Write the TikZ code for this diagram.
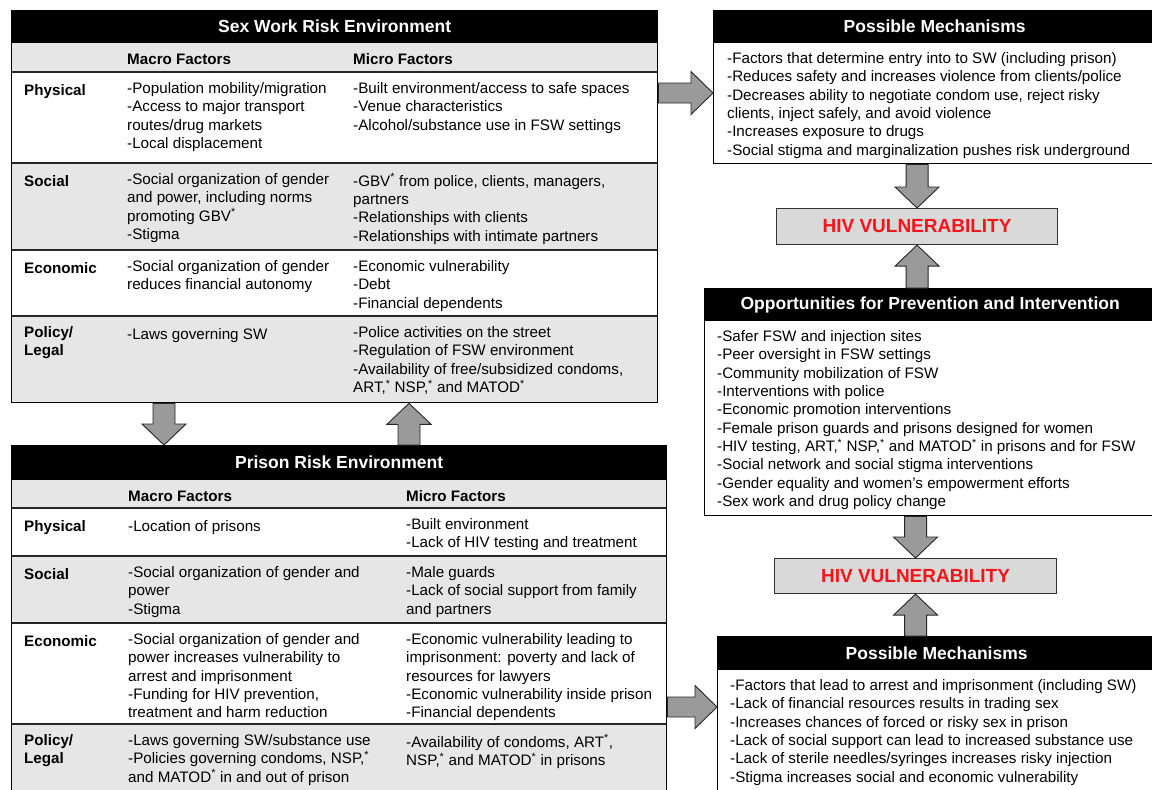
\documentclass[tikz,border=0pt]{standalone}
\usepackage{fontspec}
\setmainfont{Liberation Sans}
\usetikzlibrary{calc}
\definecolor{rowgray}{HTML}{E6E6E6}
\definecolor{hivgray}{HTML}{D9D9D9}
\definecolor{arrowgray}{HTML}{9A9A9A}
\definecolor{hivred}{HTML}{F5141A}
\newcommand\bodyfont{\fontsize{15.2}{18.35}\selectfont}
\newcommand\ttlfont{\fontsize{17.5}{20}\selectfont\bfseries}
\newcommand\sst{\textsuperscript{*}}
\newcommand\BlockDown[2]{\draw[blockarrow] ($(#1)+(-11,0)$) -- ($(#2)+(-11,-21)$) -- ($(#2)+(-22,-21)$) -- (#2) -- ($(#2)+(22,-21)$) -- ($(#2)+(11,-21)$) -- ($(#1)+(11,0)$) -- cycle;}
\newcommand\BlockUp[2]{\draw[blockarrow] ($(#1)+(-11,0)$) -- ($(#2)+(-11,21)$) -- ($(#2)+(-22,21)$) -- (#2) -- ($(#2)+(22,21)$) -- ($(#2)+(11,21)$) -- ($(#1)+(11,0)$) -- cycle;}
\newcommand\BlockRight[2]{\draw[blockarrow] ($(#1)+(0,-10)$) -- ($(#2)+(-22,-10)$) -- ($(#2)+(-22,-21.5)$) -- (#2) -- ($(#2)+(-22,21.5)$) -- ($(#2)+(-22,10)$) -- ($(#1)+(0,10)$) -- cycle;}
\begin{document}
\begin{tikzpicture}[x=1pt,y=-1pt,
  cell/.style={anchor=north west, inner sep=0pt, align=left, font=\bodyfont, execute at begin node=\strut, yshift=-1.8pt},
  lbl/.style={cell, font=\bodyfont\bfseries},
  boxn/.style={draw=black, line width=1.3pt, inner sep=0pt, anchor=north west},
  titlebar/.style={fill=black, draw=black, line width=1.3pt, text=white, font=\ttlfont, inner sep=0pt, anchor=north west},
  rowline/.style={draw=black!85, line width=1.1pt},
  hivbox/.style={fill=hivgray, draw=black!80, line width=1.1pt, text=hivred, font=\fontsize{19}{22}\selectfont\bfseries, inner sep=0pt, anchor=north west},
  blockarrow/.style={fill=arrowgray, draw=black!85, line width=0.9pt, line join=miter}
]
\useasboundingbox (0,0) rectangle (1152,790);
\fill[white] (0,0) rectangle (1152,790);

% ---------- Sex work risk environment ----------
\fill[rowgray] (11,42) rectangle (657,72);
\fill[rowgray] (11,163) rectangle (657,250);
\fill[rowgray] (11,316) rectangle (657,402);
\draw[rowline] (11,72) -- (657,72);
\draw[rowline] (11,163) -- (657,163);
\draw[rowline] (11,250) -- (657,250);
\draw[rowline] (11,316) -- (657,316);
\node[boxn, minimum width=646pt, minimum height=392pt] (sw) at (11,10) {};
\node[titlebar, minimum width=646pt, minimum height=32pt] (swtitle) at (11,10) {Sex Work Risk Environment};

\node[lbl] (swhma) at (127,49.5) {Macro Factors};
\node[lbl] (swhmi) at (353,49.5) {Micro Factors};

\node[lbl] (swpl) at (24,80.5) {Physical};
\node[cell] (swpma) at (127,80.5) {-Population mobility/migration\\-Access to major transport\\routes/drug markets\\-Local displacement};
\node[cell] (swpmi) at (353,80.5) {-Built environment/access to safe spaces\\-Venue characteristics\\-Alcohol/substance use in FSW settings};

\node[lbl] (swsl) at (24,171.5) {Social};
\node[cell] (swsma) at (127,171.5) {-Social organization of gender\\and power, including norms\\promoting GBV\sst\\-Stigma};
\node[cell] (swsmi) at (353,171.5) {-GBV\sst{} from police, clients, managers,\\partners\\-Relationships with clients\\-Relationships with intimate partners};

\node[lbl] (swel) at (24,258.5) {Economic};
\node[cell] (swema) at (127,258.5) {-Social organization of gender\\reduces financial autonomy};
\node[cell] (swemi) at (353,258.5) {-Economic vulnerability\\-Debt\\-Financial dependents};

\node[lbl] (swll) at (24,324.5) {Policy/\\Legal};
\node[cell] (swlma) at (127,324.5) {-Laws governing SW};
\node[cell] (swlmi) at (353,324.5) {-Police activities on the street\\-Regulation of FSW environment\\-Availability of free/subsidized condoms,\\ART,\sst{} NSP,\sst{} and MATOD\sst};

% ---------- Prison risk environment ----------
\fill[rowgray] (11,479) rectangle (666,508);
\fill[rowgray] (11,556) rectangle (666,623);
\fill[rowgray] (11,724) rectangle (666,795);
\draw[rowline] (11,508) -- (666,508);
\draw[rowline] (11,556) -- (666,556);
\draw[rowline] (11,623) -- (666,623);
\draw[rowline] (11,724) -- (666,724);
\node[boxn, minimum width=655pt, minimum height=350pt] (pr) at (11,445) {};
\node[titlebar, minimum width=655pt, minimum height=34pt] (prtitle) at (11,445) {Prison Risk Environment};

\node[lbl] (prhma) at (128,486.5) {Macro Factors};
\node[lbl] (prhmi) at (406,486.5) {Micro Factors};

\node[lbl] (prpl) at (24,516.5) {Physical};
\node[cell] (prpma) at (128,516.5) {-Location of prisons};
\node[cell] (prpmi) at (406,516.5) {-Built environment\\-Lack of HIV testing and treatment};

\node[lbl] (prsl) at (24,564.5) {Social};
\node[cell] (prsma) at (128,564.5) {-Social organization of gender and\\power\\-Stigma};
\node[cell] (prsmi) at (406,564.5) {-Male guards\\-Lack of social support from family\\and partners};

\node[lbl] (prel) at (24,631.5) {Economic};
\node[cell] (prema) at (128,631.5) {-Social organization of gender and\\power increases vulnerability to\\arrest and imprisonment\\-Funding for HIV prevention,\\treatment and harm reduction};
\node[cell] (premi) at (406,631.5) {-Economic vulnerability leading to\\imprisonment: poverty and lack of\\resources for lawyers\\-Economic vulnerability inside prison\\-Financial dependents};

\node[lbl] (prll) at (24,732.5) {Policy/\\Legal};
\node[cell] (prlma) at (128,732.5) {-Laws governing SW/substance use\\-Policies governing condoms, NSP,\sst\\and MATOD\sst{} in and out of prison};
\node[cell] (prlmi) at (406,732.5) {-Availability of condoms, ART\sst,\\NSP,\sst{} and MATOD\sst{} in prisons};

% ---------- Right column ----------
\node[boxn, minimum width=442pt, minimum height=153pt] (mech1) at (713,10) {};
\node[titlebar, minimum width=442pt, minimum height=32pt] (mech1t) at (713,10) {Possible Mechanisms};
\node[cell] (mech1x) at (727,50.5) {-Factors that determine entry into to SW (including prison)\\-Reduces safety and increases violence from clients/police\\-Decreases ability to negotiate condom use, reject risky\\clients, inject safely, and avoid violence\\-Increases exposure to drugs\\-Social stigma and marginalization pushes risk underground};

\node[hivbox, minimum width=281pt, minimum height=36pt] (hiv1) at (776,208) {HIV VULNERABILITY};

\node[boxn, minimum width=451pt, minimum height=227pt] (opp) at (704,288) {};
\node[titlebar, minimum width=451pt, minimum height=32pt] (oppt) at (704,288) {Opportunities for Prevention and Intervention};
\node[cell] (oppx) at (717,328.5) {-Safer FSW and injection sites\\-Peer oversight in FSW settings\\-Community mobilization of FSW\\-Interventions with police\\-Economic promotion interventions\\-Female prison guards and prisons designed for women\\-HIV testing, ART,\sst{} NSP,\sst{} and MATOD\sst{} in prisons and for FSW\\-Social network and social stigma interventions\\-Gender equality and women's empowerment efforts\\-Sex work and drug policy change};

\node[hivbox, minimum width=282pt, minimum height=35pt] (hiv2) at (774,558) {HIV VULNERABILITY};

\node[boxn, minimum width=438pt, minimum height=160pt] (mech2) at (717,636) {};
\node[titlebar, minimum width=438pt, minimum height=33pt] (mech2t) at (717,636) {Possible Mechanisms};
\node[cell] (mech2x) at (730,677.5) {-Factors that lead to arrest and imprisonment (including SW)\\-Lack of financial resources results in trading sex\\-Increases chances of forced or risky sex in prison\\-Lack of social support can lead to increased substance use\\-Lack of sterile needles/syringes increases risky injection\\-Stigma increases social and economic vulnerability};

% ---------- Block arrows ----------
\coordinate (a1s) at ($(sw.south west)+(153,0)$);
\coordinate (a1t) at (a1s |- prtitle.north);
\BlockDown{a1s}{a1t}
\coordinate (a2s) at ($(prtitle.north west)+(398,0)$);
\coordinate (a2t) at (a2s |- sw.south);
\BlockUp{a2s}{a2t}
\coordinate (a3s) at ($(sw.north east)+(0,83)$);
\coordinate (a3t) at (a3s -| mech1.west);
\BlockRight{a3s}{a3t}
\coordinate (a4s) at ($(pr.north east)+(0,262)$);
\coordinate (a4t) at (a4s -| mech2.west);
\BlockRight{a4s}{a4t}
\coordinate (a5s) at (hiv1.north |- mech1.south);
\BlockDown{a5s}{hiv1.north}
\coordinate (a6s) at (hiv1.south |- opp.north);
\BlockUp{a6s}{hiv1.south}
\coordinate (a7s) at (hiv2.north |- opp.south);
\BlockDown{a7s}{hiv2.north}
\coordinate (a8s) at (hiv2.south |- mech2.north);
\BlockUp{a8s}{hiv2.south}
\end{tikzpicture}
\end{document}
